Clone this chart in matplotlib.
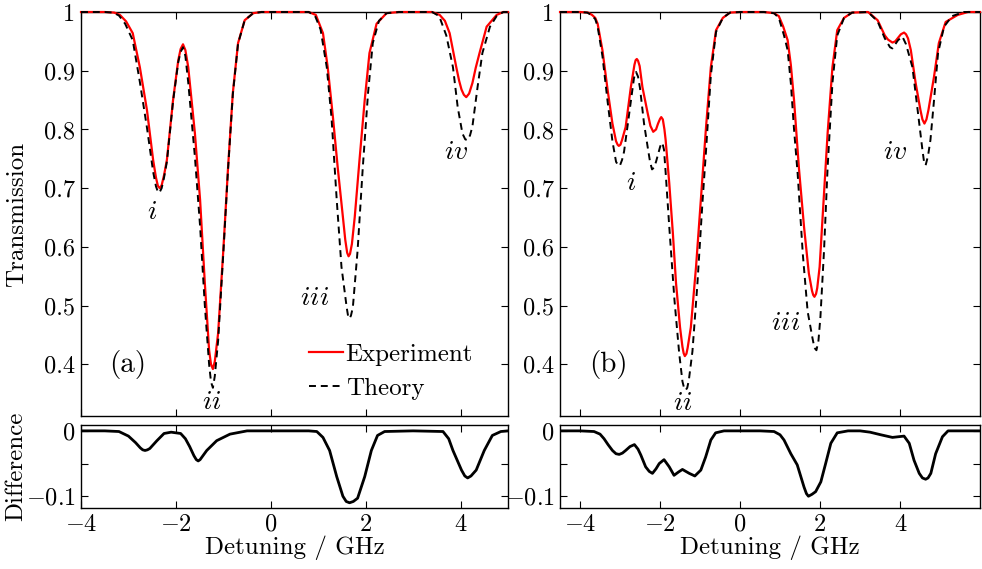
import matplotlib
matplotlib.use("Agg")
import matplotlib.pyplot as plt

# ---------------------------------------------------------------------------
# Data (detuning in GHz)
# ---------------------------------------------------------------------------

# panel (a) - experiment
a_exp_x = [-4.0, -3.5, -3.3, -3.18, -3.05, -2.91, -2.76, -2.61, -2.48, -2.42,
           -2.38, -2.34, -2.30, -2.25, -2.19, -2.06, -1.95, -1.90, -1.85,
           -1.80, -1.74, -1.6, -1.49, -1.39, -1.3, -1.26, -1.22, -1.18, -1.11,
           -1.0, -0.9, -0.8, -0.69, -0.55, -0.37, -0.2,
           0.5, 0.8, 0.95, 1.1, 1.2, 1.31, 1.41, 1.52, 1.57, 1.61, 1.64, 1.67,
           1.71, 1.77, 1.87, 1.98, 2.08, 2.23, 2.44, 2.7,
           3.4, 3.56, 3.67, 3.77, 3.91, 3.97, 4.02, 4.07, 4.12, 4.18, 4.25,
           4.32, 4.4, 4.55, 4.76, 4.9, 5.0]
a_exp_y = [1.0, 1.0, 0.999, 0.995, 0.984, 0.964, 0.906, 0.833, 0.748, 0.718,
           0.704, 0.700, 0.705, 0.722, 0.748, 0.85, 0.918, 0.937, 0.945,
           0.935, 0.906, 0.794, 0.68, 0.538, 0.424, 0.400, 0.392, 0.405, 0.453,
           0.595, 0.736, 0.862, 0.947, 0.986, 0.998, 1.0,
           1.0, 1.0, 0.995, 0.964, 0.906, 0.821, 0.736, 0.651, 0.612, 0.590,
           0.584, 0.588, 0.605, 0.651, 0.748, 0.85, 0.93, 0.98, 0.998, 1.0,
           1.0, 0.995, 0.985, 0.964, 0.906, 0.883, 0.868, 0.859, 0.855, 0.861,
           0.879, 0.905, 0.93, 0.975, 0.995, 1.0, 1.0]

# panel (a) - theory
a_th_x = [-4.0, -3.5, -3.32, -3.2, -3.07, -2.91, -2.76, -2.61, -2.48, -2.42,
          -2.38, -2.35, -2.30, -2.25, -2.19, -2.06, -1.95, -1.90, -1.85, -1.80,
          -1.74, -1.6, -1.49, -1.39, -1.3, -1.26, -1.22, -1.18, -1.11, -1.0,
          -0.9, -0.8, -0.69, -0.55, -0.37, -0.2,
          0.5, 0.8, 0.93, 1.05, 1.18, 1.28, 1.39, 1.49, 1.6, 1.63, 1.66, 1.69,
          1.73, 1.83, 1.94, 2.05, 2.15, 2.28, 2.44, 2.7,
          3.4, 3.55, 3.7, 3.84, 3.94, 4.04, 4.1, 4.15, 4.2, 4.25, 4.36, 4.46,
          4.62, 4.76, 4.9, 5.0]
a_th_y = [1.0, 1.0, 0.999, 0.994, 0.98, 0.952, 0.881, 0.803, 0.728, 0.703,
          0.694, 0.692, 0.700, 0.718, 0.745, 0.848, 0.915, 0.932, 0.94, 0.925,
          0.88, 0.754, 0.635, 0.50, 0.40, 0.37, 0.36, 0.38, 0.44, 0.59,
          0.733, 0.86, 0.946, 0.986, 0.998, 1.0,
          1.0, 1.0, 0.994, 0.97, 0.906, 0.82, 0.68, 0.566, 0.497, 0.482,
          0.478, 0.483, 0.497, 0.594, 0.736, 0.862, 0.947, 0.985, 0.998, 1.0,
          1.0, 0.993, 0.96, 0.906, 0.838, 0.793, 0.783, 0.782, 0.79, 0.805,
          0.873, 0.93, 0.975, 0.993, 1.0, 1.0]

# panel (a) - difference
a_diff_x = [-4.0, -3.5, -3.2, -3.0, -2.85, -2.75, -2.7, -2.65, -2.6, -2.55,
            -2.4, -2.25, -2.1, -1.9, -1.8, -1.71, -1.62, -1.57, -1.53, -1.49,
            -1.45, -1.35, -1.14, -0.86, -0.5, 0.0, 0.8, 0.97, 1.1, 1.24, 1.39,
            1.52, 1.59, 1.66, 1.74, 1.83, 1.98, 2.12, 2.25, 2.4, 3.0, 3.63,
            3.75, 3.84, 4.02, 4.09, 4.15, 4.22, 4.33, 4.5, 4.67, 4.85, 5.0]
a_diff_y = [0.0, 0.0, -0.001, -0.008, -0.018, -0.026, -0.029, -0.030, -0.029,
            -0.027, -0.015, -0.004, -0.002, -0.004, -0.012, -0.024, -0.038,
            -0.044, -0.046, -0.044, -0.04, -0.03, -0.015, -0.005, 0.0, 0.0,
            0.0, -0.001, -0.01, -0.03, -0.07, -0.10, -0.108, -0.11, -0.108,
            -0.103, -0.07, -0.03, -0.007, -0.001, 0.0, -0.001, -0.012, -0.03,
            -0.06, -0.069, -0.072, -0.069, -0.06, -0.03, -0.007, -0.001, 0.0]

# panel (b) - experiment
b_exp_x = [-4.5, -4.0, -3.8, -3.7, -3.62, -3.56, -3.44, -3.31, -3.19, -3.1,
           -3.06, -3.03, -2.99, -2.95, -2.86, -2.73, -2.64, -2.61, -2.58,
           -2.55, -2.51, -2.44, -2.31, -2.24, -2.17, -2.1, -2.05, -2.0, -1.97,
           -1.93, -1.89, -1.86, -1.77, -1.68, -1.6, -1.5, -1.44, -1.41, -1.38,
           -1.34, -1.31, -1.23, -1.1, -0.98, -0.85, -0.73, -0.6, -0.43, -0.25,
           0.0, 0.6, 0.85, 0.97, 1.08, 1.19, 1.27, 1.35, 1.47, 1.6, 1.72, 1.8,
           1.83, 1.86, 1.9, 1.93, 1.99, 2.09, 2.19, 2.31, 2.43, 2.6, 2.8, 3.2,
           3.44, 3.62, 3.7, 3.81, 3.88, 3.95, 4.02, 4.1, 4.15, 4.2, 4.27, 4.39,
           4.51, 4.56, 4.61, 4.66, 4.71, 4.85, 4.97, 5.14, 5.44, 5.7, 6.0]
b_exp_y = [1.0, 1.0, 0.999, 0.995, 0.99, 0.98, 0.935, 0.867, 0.81, 0.78,
           0.774, 0.772, 0.774, 0.782, 0.804, 0.872, 0.91, 0.918, 0.92,
           0.917, 0.908, 0.872, 0.828, 0.806, 0.796, 0.80, 0.81, 0.818, 0.821,
           0.817, 0.80, 0.782, 0.709, 0.624, 0.538, 0.463, 0.43, 0.419, 0.414,
           0.418, 0.428, 0.463, 0.566, 0.68, 0.804, 0.906, 0.969, 0.99, 0.999,
           1.0, 1.0, 0.998, 0.993, 0.975, 0.952, 0.91, 0.85, 0.736, 0.634,
           0.555, 0.525, 0.518, 0.515, 0.52, 0.53, 0.566, 0.68, 0.794, 0.906,
           0.969, 0.99, 0.999, 1.0,
           0.986, 0.96, 0.953, 0.948, 0.95, 0.956, 0.962, 0.965, 0.962, 0.955,
           0.935, 0.879, 0.833, 0.817, 0.81, 0.817, 0.833, 0.89, 0.947, 0.983,
           0.995, 1.0, 1.0]

# panel (b) - theory
b_th_x = [-4.5, -4.0, -3.82, -3.72, -3.62, -3.56, -3.44, -3.31, -3.19, -3.1,
          -3.04, -3.0, -2.95, -2.9, -2.8, -2.7, -2.65, -2.6, -2.55, -2.5, -2.4,
          -2.3, -2.25, -2.2, -2.15, -2.1, -2.0, -1.97, -1.94, -1.9, -1.86,
          -1.77, -1.64, -1.52, -1.44, -1.40, -1.36, -1.32, -1.28, -1.19, -1.07,
          -0.94, -0.85, -0.73, -0.6, -0.43, -0.25, 0.0,
          0.6, 0.85, 0.97, 1.1, 1.19, 1.27, 1.35, 1.44, 1.57, 1.69, 1.81,
          1.86, 1.91, 1.96, 2.01, 2.1, 2.19, 2.31, 2.43, 2.6, 2.8, 3.2,
          3.44, 3.62, 3.75, 3.81, 3.95, 4.06, 4.15, 4.31, 4.44, 4.56, 4.6,
          4.64, 4.7, 4.76, 4.85, 4.95, 5.1, 5.3, 5.6, 6.0]
b_th_y = [1.0, 1.0, 0.999, 0.995, 0.988, 0.975, 0.925, 0.847, 0.78, 0.745,
          0.738, 0.739, 0.748, 0.762, 0.812, 0.863, 0.888, 0.898, 0.89, 0.87,
          0.81, 0.766, 0.745, 0.732, 0.735, 0.745, 0.77, 0.776, 0.777, 0.765,
          0.727, 0.635, 0.51, 0.418, 0.371, 0.36, 0.356, 0.36, 0.373, 0.422,
          0.533, 0.675, 0.764, 0.892, 0.966, 0.99, 0.999, 1.0,
          1.0, 0.998, 0.99, 0.96, 0.935, 0.879, 0.80, 0.725, 0.587, 0.49,
          0.445, 0.428, 0.424, 0.44, 0.481, 0.594, 0.736, 0.879, 0.96, 0.99,
          0.999, 1.0,
          0.984, 0.955, 0.94, 0.938, 0.952, 0.958, 0.945, 0.906, 0.833, 0.765,
          0.745, 0.739, 0.755, 0.782, 0.85, 0.93, 0.975, 0.993, 1.0, 1.0]

# panel (b) - difference
b_diff_x = [-4.5, -4.0, -3.65, -3.5, -3.4, -3.3, -3.19, -3.1, -3.02, -2.94,
            -2.86, -2.75, -2.64, -2.55, -2.48, -2.36, -2.27, -2.19, -2.1,
            -2.02, -1.9, -1.77, -1.65, -1.54, -1.44, -1.27, -1.13, -0.98,
            -0.86, -0.73, -0.61, -0.4, 0.5, 0.85, 1.0, 1.1, 1.27, 1.43, 1.6,
            1.66, 1.71, 1.8, 1.89, 2.02, 2.14, 2.27, 2.43, 2.7, 3.0, 3.25,
            3.52, 3.81, 4.1, 4.23, 4.35, 4.48, 4.56, 4.64, 4.7, 4.77, 4.89,
            5.06, 5.2, 6.0]
b_diff_y = [0.0, 0.0, -0.001, -0.005, -0.012, -0.021, -0.030, -0.035, -0.036,
            -0.034, -0.03, -0.024, -0.021, -0.028, -0.037, -0.055, -0.062,
            -0.065, -0.058, -0.05, -0.044, -0.055, -0.068, -0.063, -0.059,
            -0.065, -0.069, -0.06, -0.04, -0.014, -0.003, 0.0, 0.0, -0.001,
            -0.006, -0.014, -0.035, -0.052, -0.086, -0.096, -0.10, -0.097,
            -0.093, -0.078, -0.05, -0.019, -0.003, 0.0, 0.0, -0.002, -0.006,
            -0.01, -0.008, -0.019, -0.045, -0.065, -0.072, -0.074, -0.072,
            -0.065, -0.035, -0.009, 0.0, 0.0]

peak_labels = ["$i$", "$ii$", "$iii$", "$iv$"]
a_label_pos = [(-2.51, 0.66), (-1.24, 0.336), (0.93, 0.514), (3.92, 0.762)]
b_label_pos = [(-2.73, 0.709), (-1.43, 0.334), (1.14, 0.47), (3.89, 0.762)]

trans_ticks = [0.4, 0.5, 0.6, 0.7, 0.8, 0.9, 1.0]
trans_ticklabels = ["0.4", "0.5", "0.6", "0.7", "0.8", "0.9", "1"]
diff_ticks = [-0.1, -0.05, 0.0]
diff_ticklabels = ["$-0.1$", "", "0"]
det_ticks = [-4, -2, 0, 2, 4]
det_ticklabels = ["$-4$", "$-2$", "0", "2", "4"]

# ---------------------------------------------------------------------------
# Style
# ---------------------------------------------------------------------------
plt.rcParams["font.family"] = "serif"
plt.rcParams["font.serif"] = ["cmr10", "DejaVu Serif"]
plt.rcParams["mathtext.fontset"] = "cm"
plt.rcParams["axes.formatter.use_mathtext"] = True
plt.rcParams["lines.scale_dashes"] = False

RED = "#ff0000"
TICK_FS = 17.5
LABEL_FS = 18

fig = plt.figure(figsize=(9.82, 5.69), dpi=100)

panels = [
    dict(x0=0.0825, w=0.4348, xlim=(-4, 5), exp=(a_exp_x, a_exp_y),
         th=(a_th_x, a_th_y), diff=(a_diff_x, a_diff_y), tag="(a)",
         tag_pos=(-3.01, 0.40), lab_pos=a_label_pos, ylabels=True),
    dict(x0=0.5703, w=0.4277, xlim=(-4.5, 6), exp=(b_exp_x, b_exp_y),
         th=(b_th_x, b_th_y), diff=(b_diff_x, b_diff_y), tag="(b)",
         tag_pos=(-3.28, 0.40), lab_pos=b_label_pos, ylabels=False),
]


def style_axis(ax):
    ax.tick_params(direction="in", top=True, right=True, length=5,
                   width=0.8, labelsize=TICK_FS, pad=4)
    for sp in ax.spines.values():
        sp.set_linewidth(1.0)


for p in panels:
    top = fig.add_axes([p["x0"], 0.2689, p["w"], 0.7100])
    bot = fig.add_axes([p["x0"], 0.1072, p["w"], 0.1459])

    # ---- transmission ----
    top.plot(*p["exp"], color=RED, lw=1.6, zorder=3, clip_on=False,
             label="Experiment", solid_joinstyle="round")
    top.plot(*p["th"], color="black", lw=1.4, dashes=(5, 3.5), zorder=4,
             clip_on=False, label="Theory")
    top.set_xlim(*p["xlim"])
    top.set_ylim(0.312, 1.0)
    top.set_xticks(det_ticks)
    top.set_xticklabels([])
    top.set_yticks(trans_ticks)
    top.set_yticklabels(trans_ticklabels)
    style_axis(top)

    for txt, (tx, ty) in zip(peak_labels, p["lab_pos"]):
        top.text(tx, ty, txt, fontsize=20, ha="center", va="center")
    top.text(*p["tag_pos"], p["tag"], fontsize=21, ha="center", va="center")

    # ---- difference ----
    bot.plot(*p["diff"], color="black", lw=2.0, zorder=3,
             solid_joinstyle="round")
    bot.set_xlim(*p["xlim"])
    bot.set_ylim(-0.118, 0.009)
    bot.set_xticks(det_ticks)
    bot.set_xticklabels(det_ticklabels)
    bot.set_yticks(diff_ticks)
    bot.set_yticklabels(diff_ticklabels)
    style_axis(bot)
    bot.set_xlabel("Detuning / GHz", fontsize=LABEL_FS, labelpad=0)

    if p["ylabels"]:
        top.set_ylabel("Transmission", fontsize=LABEL_FS)
        bot.set_ylabel("Difference", fontsize=LABEL_FS)
        top.yaxis.set_label_coords(-0.125, 0.5)
        bot.yaxis.set_label_coords(-0.125, 0.5)
        top.legend(loc="upper left", bbox_to_anchor=(0.535, 0.18),
                   frameon=False, fontsize=LABEL_FS, handlelength=1.35,
                   handletextpad=0.1, labelspacing=0.45, borderpad=0,
                   borderaxespad=0)

fig.savefig("out.png", dpi=100)
